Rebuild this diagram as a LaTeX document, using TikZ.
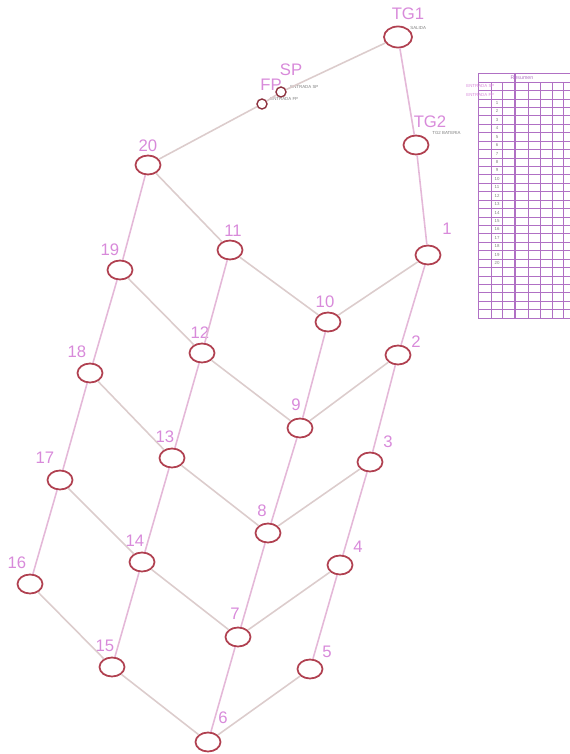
\documentclass[tikz,border=0pt]{standalone}
\usepackage{fontspec}
\setmainfont{Liberation Sans}
\usetikzlibrary{shapes.geometric}
\definecolor{ringred}{HTML}{B04050}
\definecolor{lblpink}{HTML}{D88ADA}
\definecolor{edgegray}{HTML}{DCCCCC}
\definecolor{edgepink}{HTML}{E4B8D8}
\definecolor{gridviolet}{HTML}{B070C4}

\begin{document}
\begin{tikzpicture}[x=0.02cm, y=-0.02cm, every node/.style={font=\fontsize{9.5}{10}\selectfont},
	v/.style={draw=ringred, line width=1pt, ellipse, minimum width=0.5cm, minimum height=0.38cm, inner sep=0pt},
	vs/.style={draw=ringred!80!black, line width=0.8pt, circle, minimum size=0.2cm, inner sep=0pt},
	lbl/.style={text=lblpink, inner sep=0pt},
	tag/.style={text=gray, font=\fontsize{2.5}{3}\selectfont, inner sep=0pt, anchor=west},
	e/.style={draw=edgegray, line width=0.9pt},
	ev/.style={draw=edgepink, line width=0.9pt}]
	\useasboundingbox (0,0) rectangle (570,754);
	% grid nodes
	\foreach \n/\x/\y/\lx/\ly in {20/148/165/148/146, 11/230/250/233/231, 19/120/270/110/250, 1/428/255/447/229,
		10/328/322/325/302, 12/202/353/200/333, 18/90/373/77/352, 2/398/355/416/342,
		9/300/428/296/405, 13/172/458/165/437, 17/60/480/45/458, 3/370/462/388/442,
		8/268/533/262/511, 14/142/562/135/541, 16/30/584/17/563, 4/340/565/358/547,
		7/238/637/235/614, 15/112/667/105/646, 5/310/669/327/652, 6/208/742/223/718}
		{\node[v] (n\n) at (\x,\y) {}; \node[lbl] (l\n) at (\lx,\ly) {\n};}
	% tanks and pumps
	\node[v, minimum width=0.56cm, minimum height=0.42cm] (TG1) at (398,37) {};
	\node[v] (TG2) at (416,145) {};
	\node[vs] (SP) at (281,92) {};
	\node[vs] (FP) at (262,104) {};
	\node[lbl] (lTG1) at (408,14) {TG1};
	\node[lbl] (lTG2) at (430,122) {TG2};
	\node[lbl] (lSP) at (291,70) {SP};
	\node[lbl] (lFP) at (271,85) {FP};
	\node[tag] (tTG1) at (410,28) {SALIDA};
	\node[tag] (tTG2) at (432,133) {TG2 BATERIA};
	\node[tag] (tSP) at (290,87) {ENTRADA SP};
	\node[tag] (tFP) at (270,99) {ENTRADA FP};
	% pipes
	\foreach \a/\b in {TG1/SP, SP/FP, FP/n20, n20/n11, n11/n10, n10/n1, n19/n12, n12/n9, n9/n2,
		n18/n13, n13/n8, n8/n3, n17/n14, n14/n7, n7/n4, n16/n15, n15/n6, n6/n5}
		{\draw[e] (\a) -- (\b);}
	\foreach \a/\b in {TG1/TG2, TG2/n1, n20/n19, n19/n18, n18/n17, n17/n16, n11/n12, n12/n13, n13/n14, n14/n15,
		n10/n9, n9/n8, n8/n7, n7/n6, n1/n2, n2/n3, n3/n4, n4/n5}
		{\draw[ev] (\a) -- (\b);}
	% summary table
	\draw[gridviolet, line width=0.5pt] (478,73) rectangle (572,318);
	\node[text=gridviolet, font=\fontsize{3}{3}\selectfont] (thead) at (522,77.5) {Resumen};
	\foreach \r in {0,...,28} {\draw[gridviolet, line width=0.35pt] (478,82+8.43*\r) -- (572,82+8.43*\r);}
	\foreach \c in {491,502,528,540,552,563} {\draw[gridviolet, line width=0.45pt] (\c,82) -- (\c,318);}
	\draw[gridviolet, line width=0.8pt] (515,73) -- (515,318);
	\node[tag, text=lblpink, anchor=west] (row1) at (466,86.2) {ENTRADA SP};
	\node[tag, text=lblpink, anchor=west] (row2) at (466,94.6) {ENTRADA FP};
	\foreach \r in {1,...,20} {\node[tag, anchor=center] (row\r) at (497,103+8.43*\r-8.43) {\r};}
\end{tikzpicture}
\end{document}
